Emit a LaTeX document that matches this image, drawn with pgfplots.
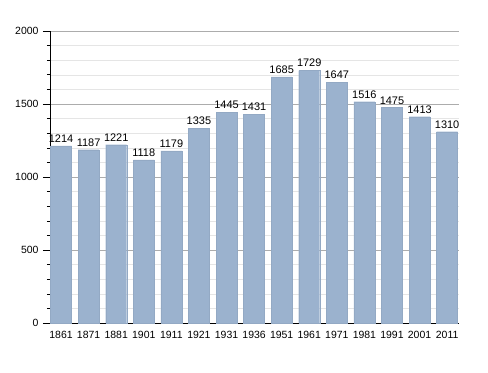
\documentclass[border=0pt]{standalone}
\usepackage{pgfplots}
\pgfplotsset{compat=1.18}
\usepackage{fontspec}
\setmainfont{Liberation Sans}
\definecolor{barc}{RGB}{155,178,206}
\begin{document}
\begin{tikzpicture}
\begin{axis}[
  at={(0,0)}, anchor=south west,
  scale only axis, width=409bp, height=292bp,
  xmin=-0.4, xmax=14.43, ymin=0, ymax=2000,
  axis x line*=bottom, axis y line*=left,
  axis line style={black, line width=0.9pt, -},
  xtick=data,
  xticklabels={1861,1871,1881,1901,1911,1921,1931,1936,1951,1961,1971,1981,1991,2001,2011},
  x tick style={draw=none},
  ytick={0,500,1000,1500,2000},
  minor ytick={100,200,300,400,600,700,800,900,1100,1200,1300,1400,1600,1700,1800,1900},
  ymajorgrids, yminorgrids,
  major grid style={draw=gray!65, line width=0.6pt},
  minor grid style={draw=gray!20, line width=0.5pt},
  y tick style={black, line width=0.6pt},
  tick align=outside,
  major tick length=7bp, minor tick length=3bp,
  tick label style={font=\fontsize{10.5}{12}\selectfont},
  xticklabel style={yshift=2.5bp},
  yticklabel style={xshift=-1bp},
  /pgf/number format/assume math mode=true,
  yticklabel style={/pgf/number format/1000 sep={}},
  nodes near coords,
  every node near coord/.append style={font=\fontsize{11}{12}\selectfont, /pgf/number format/1000 sep={}, yshift=0bp},
]
\addplot[ybar, bar width=21bp, fill=barc, draw=barc!95!black, line width=0.3pt] coordinates {
(0,1214) (1,1187) (2,1221) (3,1118) (4,1179) (5,1335) (6,1445) (7,1431)
(8,1685) (9,1729) (10,1647) (11,1516) (12,1475) (13,1413) (14,1310)};
\end{axis}
\path[use as bounding box] (-50bp,-50bp) rectangle (438bp,323bp);
\end{tikzpicture}
\end{document}
